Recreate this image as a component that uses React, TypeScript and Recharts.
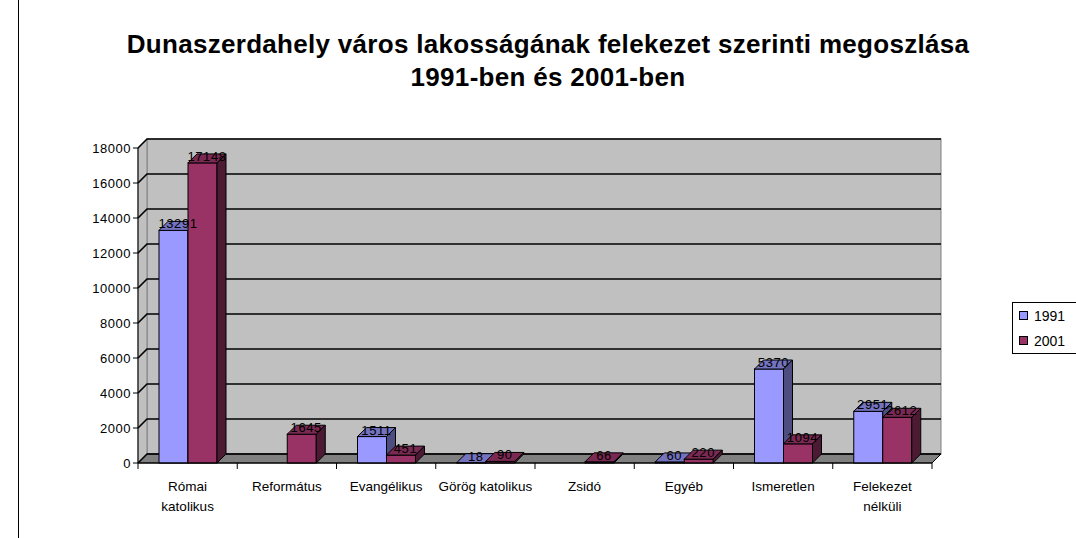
import React from 'react';
import { BarChart, Bar, XAxis, YAxis, CartesianGrid, Legend, LabelList } from 'recharts';

const CATEGORIES = ['Római katolikus', 'Református', 'Evangélikus', 'Görög katolikus', 'Zsidó', 'Egyéb', 'Ismeretlen', 'Felekezet nélküli'];
const VALUES_1991 = [13291, null, 1511, 18, null, 60, 5370, 2951];
const VALUES_2001 = [17148, 1645, 451, 90, 66, 220, 1094, 2612];
const Y_TICKS = [0, 2000, 4000, 6000, 8000, 10000, 12000, 14000, 16000, 18000];

const data = CATEGORIES.map((name, i) => ({ name, y1991: VALUES_1991[i], y2001: VALUES_2001[i] }));

// layout
const W = 1076;
const H = 538;
const LEFT = 138;
const RIGHT = 932;
const TOP = 148;
const BOTTOM = 463;
const DEPTH = 9;
const BAND = (RIGHT - LEFT) / CATEGORIES.length;
const FONT = 'Arial, "Liberation Sans", sans-serif';

const box3d = (front: string, top: string, side: string) => (props: any) => {
  const { x, y, width, height } = props;
  if (x == null || y == null) return null;
  const d = DEPTH;
  return (
    <g stroke="#000" strokeWidth={1}>
      <rect x={x} y={y} width={width} height={Math.max(height, 0)} fill={front} />
      <polygon points={`${x},${y} ${x + d},${y - d} ${x + width + d},${y - d} ${x + width},${y}`} fill={top} />
      <polygon
        points={`${x + width},${y} ${x + width + d},${y - d} ${x + width + d},${y + height - d} ${x + width},${y + height}`}
        fill={side}
      />
    </g>
  );
};

const valueLabel = (props: any) => {
  const { x, y, width, value } = props;
  if (value == null) return null;
  return (
    <text
      x={x + width / 2 + DEPTH / 2}
      y={y - 2}
      textAnchor="middle"
      fontSize={13}
      letterSpacing={0.6}
      fontFamily={FONT}
      fill="#000"
    >
      {value}
    </text>
  );
};

const gridLine = (props: any) => {
  const { x1, x2, y1, index } = props;
  const d = DEPTH;
  return (
    <g key={`gl-${index}-${y1}`}>
      {index === 0 && (
        <g>
          <rect x={LEFT + d} y={TOP - d} width={RIGHT - LEFT} height={BOTTOM - TOP} fill="#C0C0C0" stroke="#808080" />
          <polygon
            points={`${LEFT},${TOP} ${LEFT + d},${TOP - d} ${LEFT + d},${BOTTOM - d} ${LEFT},${BOTTOM}`}
            fill="#C0C0C0"
            stroke="#808080"
          />
          <polygon
            points={`${LEFT},${BOTTOM} ${RIGHT},${BOTTOM} ${RIGHT + d},${BOTTOM - d} ${LEFT + d},${BOTTOM - d}`}
            fill="#808080"
            stroke="#000"
          />
        </g>
      )}
      <polyline points={`${x1},${y1} ${x1 + d},${y1 - d} ${x2 + d},${y1 - d}`} fill="none" stroke="#000" strokeWidth={1.6} />
    </g>
  );
};

const CategoryTick = (props: any) => {
  const { x, payload, index } = props;
  const words = String(payload.value);
  const lines = words === 'Római katolikus' ? ['Római', 'katolikus'] : words === 'Felekezet nélküli' ? ['Felekezet', 'nélküli'] : [words];
  return (
    <g>
      <line x1={x - BAND / 2} y1={BOTTOM} x2={x - BAND / 2} y2={BOTTOM + 6} stroke="#000" />
      {index === CATEGORIES.length - 1 && (
        <line x1={x + BAND / 2} y1={BOTTOM} x2={x + BAND / 2} y2={BOTTOM + 6} stroke="#000" />
      )}
      <text x={x} y={BOTTOM + 28} textAnchor="middle" fontSize={13.5} fontFamily={FONT} fill="#000">
        {lines.map((l, i) => (
          <tspan key={i} x={x} dy={i === 0 ? 0 : 20}>
            {l}
          </tspan>
        ))}
      </text>
    </g>
  );
};

const LegendBox = (props: any) => {
  const { payload } = props;
  return (
    <div style={{ border: '1px solid #000', padding: '0 0 0 6px', width: 80, background: '#fff', fontFamily: FONT, fontSize: 14 }}>
      {(payload || []).map((p: any) => (
        <div key={p.value} style={{ display: 'flex', alignItems: 'center', height: 25 }}>
          <span style={{ width: 7, height: 7, background: p.color, border: '1px solid #000', marginRight: 6 }} />
          <span>{p.value}</span>
        </div>
      ))}
    </div>
  );
};

export default function App() {
  return (
    <div style={{ position: 'absolute', left: 0, top: 0, width: W, height: H, overflow: 'hidden', background: '#fff' }}>
      <div style={{ position: 'absolute', left: 18, top: 0, width: 1, height: H, background: '#000' }} />
      <div
        style={{
          position: 'absolute',
          left: 10,
          top: 28,
          width: W,
          textAlign: 'center',
          fontFamily: FONT,
          fontWeight: 'bold',
          fontSize: 26,
          letterSpacing: 0.3,
          lineHeight: '33px',
          color: '#000',
          zIndex: 2,
        }}
      >
        Dunaszerdahely város lakosságának felekezet szerinti megoszlása
        <br />
        1991-ben és 2001-ben
      </div>
      <BarChart
        width={W}
        height={H}
        data={data}
        margin={{ top: TOP, right: W - RIGHT, left: LEFT - 60, bottom: H - BOTTOM - 30 }}
        barGap={0}
        barSize={29}
      >
        <CartesianGrid vertical={false} horizontal={gridLine} />
        <XAxis dataKey="name" axisLine={{ stroke: '#000' }} tickLine={false} tick={<CategoryTick />} interval={0} height={30} />
        <YAxis
          width={60}
          domain={[0, 18000]}
          ticks={Y_TICKS}
          interval={0}
          axisLine={{ stroke: '#000' }}
          tickLine={{ stroke: '#000' }}
          tickSize={5}
          tick={{ fontSize: 13, fontFamily: FONT, fill: '#000', letterSpacing: 0.5 }}
        />
        <Legend
          layout="vertical"
          align="center"
          verticalAlign="middle"
          content={<LegendBox />}
          wrapperStyle={{ left: 1012, top: 302, width: 90 }}
        />
        <Bar dataKey="y1991" name="1991" fill="#9999FF" shape={box3d('#9999FF', '#7373C0', '#4D4D80')} isAnimationActive={false}>
          <LabelList dataKey="y1991" content={valueLabel} />
        </Bar>
        <Bar dataKey="y2001" name="2001" fill="#993366" shape={box3d('#993366', '#7A2952', '#4D1A33')} isAnimationActive={false}>
          <LabelList dataKey="y2001" content={valueLabel} />
        </Bar>
      </BarChart>
    </div>
  );
}
